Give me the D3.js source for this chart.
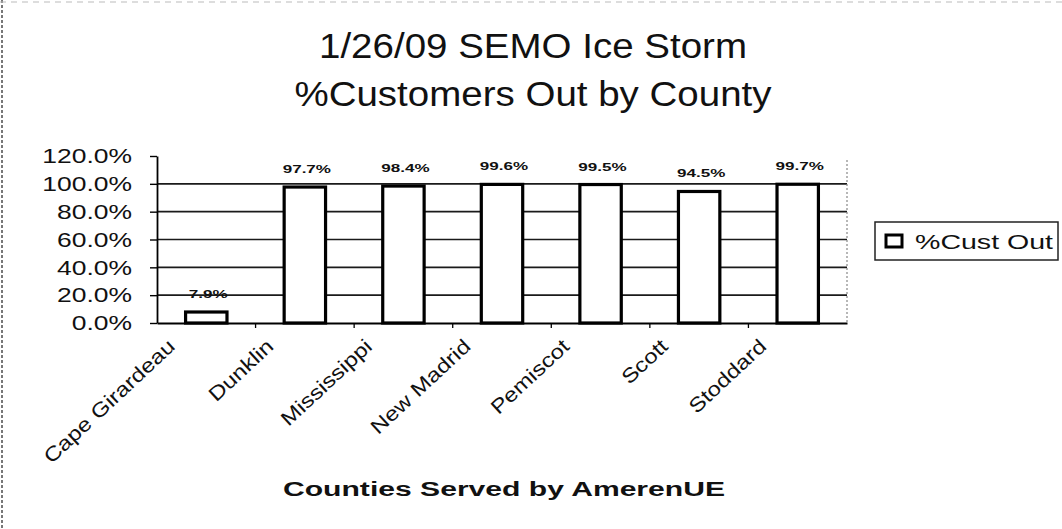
<!DOCTYPE html>
<html>
<head>
<meta charset="utf-8">
<script src="https://cdn.jsdelivr.net/npm/d3@7"></script>
<style>
  body { margin: 0; background: #fff; }
  svg { display: block; font-family: Arial, "Liberation Sans", sans-serif; }
</style>
</head>
<body>
<svg id="chart" width="1062" height="529"></svg>
<script>
// chart data
const counties = ['Cape Girardeau', 'Dunklin', 'Mississippi', 'New Madrid', 'Pemiscot', 'Scott', 'Stoddard'];
const pctOut = [7.9, 97.7, 98.4, 99.6, 99.5, 94.5, 99.7];
const yTicks = [0, 20, 40, 60, 80, 100, 120];
const titleLines = ['1/26/09 SEMO Ice Storm', '%Customers Out by County'];
const xTitle = 'Counties Served by AmerenUE';
const seriesName = '%Cust Out';

const svg = d3.select('#chart');

/* plot box */
const plotLeft = 157, plotRight = 847, plotTop = 156, plotBottom = 323;

// the scanned chart is wider than normal text, stretch it a bit
function stretch(sel, f) {
  sel.each(function() {
    const w = this.getComputedTextLength();
    d3.select(this).attr('textLength', w * f).attr('lengthAdjust', 'spacingAndGlyphs');
  });
  return sel;
}

const x = d3.scaleBand()
  .domain(counties)
  .range([plotLeft, plotRight])
  .paddingInner(0.58)
  .paddingOuter(0.29);

const y = d3.scaleLinear()
  .domain([0, 120])
  .range([plotBottom, plotTop]);

// scan border bits
svg.append('line').attr('x1', 2).attr('x2', 2).attr('y1', 0).attr('y2', 529)
  .attr('stroke', '#777').attr('stroke-width', 2).attr('stroke-dasharray', '3,2');
svg.append('line').attr('x1', 0).attr('x2', 1062).attr('y1', 2).attr('y2', 2)
  .attr('stroke', '#bbb').attr('stroke-width', 1).attr('stroke-dasharray', '6,5');

/* Title */
const title = svg.append('g');
titleLines.forEach((t, i) => {
  stretch(title.append('text')
    .attr('x', 533)
    .attr('y', 58 + i * 48)
    .attr('text-anchor', 'middle')
    .attr('font-size', 35)
    .attr('fill', '#111')
    .text(t), 1.1);
});

/* Gridlines */
svg.append('g')
  .selectAll('line')
  .data(yTicks.filter(d => d > 0 && d < 120))
  .enter()
  .append('line')
  .attr('x1', plotLeft).attr('x2', plotRight)
  .attr('y1', d => y(d)).attr('y2', d => y(d))
  .attr('stroke', '#1a1a1a')
  .attr('stroke-width', 1.6);

// right edge of plot
svg.append('line')
  .attr('x1', plotRight).attr('x2', plotRight).attr('y1', plotTop + 4).attr('y2', plotBottom)
  .attr('stroke', '#888').attr('stroke-width', 1.2).attr('stroke-dasharray', '2,2');

/* Y Axis */
const yAxis = d3.axisLeft(y)
  .tickValues(yTicks)
  .tickFormat(d => d3.format('.1f')(d) + '%')
  .tickSize(7)
  .tickPadding(18)
  .tickSizeOuter(0);

const gy = svg.append('g')
  .attr('transform', 'translate(' + plotLeft + ',0)')
  .call(yAxis);
gy.select('.domain').attr('stroke', '#000').attr('stroke-width', 1.8);
gy.selectAll('.tick line').attr('stroke', '#000').attr('stroke-width', 1.4);
gy.selectAll('.tick text')
  .attr('font-size', 21)
  .attr('font-family', 'Arial, "Liberation Sans", sans-serif')
  .attr('fill', '#111')
  .call(s => stretch(s, 1.26));

/* X Axis */
const xAxis = d3.axisBottom(x).tickSize(0).tickFormat('');
const gx = svg.append('g')
  .attr('transform', 'translate(0,' + plotBottom + ')')
  .call(xAxis);
gx.select('.domain').attr('stroke', '#000').attr('stroke-width', 1.8);

// tick marks sit between the categories
svg.append('g')
  .selectAll('line')
  .data(counties.slice(1))
  .enter()
  .append('line')
  .attr('x1', d => x(d) - x.step() * x.paddingInner() / 2)
  .attr('x2', d => x(d) - x.step() * x.paddingInner() / 2)
  .attr('y1', plotBottom).attr('y2', plotBottom + 5)
  .attr('stroke', '#000').attr('stroke-width', 1.3);

// rotated category labels
svg.append('g')
  .selectAll('text')
  .data(counties)
  .enter()
  .append('text')
  .attr('transform', d => 'translate(' + (x(d) + x.bandwidth() / 2 - 30) + ',' + (plotBottom + 25) + ') rotate(-43)')
  .attr('text-anchor', 'end')
  .attr('font-size', 20)
  .attr('fill', '#111')
  .text(d => d)
  .call(s => stretch(s, 1.2));

/* Bars */
svg.append('g')
  .selectAll('rect')
  .data(pctOut)
  .enter()
  .append('rect')
  .attr('x', (d, i) => x(counties[i]))
  .attr('y', d => y(d))
  .attr('width', x.bandwidth())
  .attr('height', d => y(0) - y(d))
  .attr('fill', '#fff')
  .attr('stroke', '#000')
  .attr('stroke-width', 3.2);

// value labels
svg.append('g')
  .selectAll('text')
  .data(pctOut)
  .enter()
  .append('text')
  .attr('x', (d, i) => x(counties[i]) + x.bandwidth() / 2 + 2)
  .attr('y', d => y(d) - 14)
  .attr('text-anchor', 'middle')
  .attr('font-size', 11)
  .attr('font-weight', 'bold')
  .attr('fill', '#111')
  .text(d => d3.format('.1f')(d) + '%')
  .call(s => stretch(s, 1.55));

/* X title */
svg.append('text')
  .attr('x', 504)
  .attr('y', 496)
  .attr('text-anchor', 'middle')
  .attr('font-size', 20)
  .attr('font-weight', 'bold')
  .attr('fill', '#111')
  .text(xTitle)
  .attr('textLength', 442)
  .attr('lengthAdjust', 'spacingAndGlyphs');

/* Legend */
const legend = svg.append('g');
legend.append('rect')
  .attr('x', 875).attr('y', 222)
  .attr('width', 183).attr('height', 38)
  .attr('fill', '#fff')
  .attr('stroke', '#222')
  .attr('stroke-width', 1.5);
legend.append('rect')
  .attr('x', 886).attr('y', 235)
  .attr('width', 16).attr('height', 12)
  .attr('fill', '#fff')
  .attr('stroke', '#000')
  .attr('stroke-width', 3);
legend.append('text')
  .attr('x', 915).attr('y', 249)
  .attr('font-size', 20)
  .attr('fill', '#111')
  .text(seriesName)
  .attr('textLength', 138)
  .attr('lengthAdjust', 'spacingAndGlyphs');
</script>
</body>
</html>
